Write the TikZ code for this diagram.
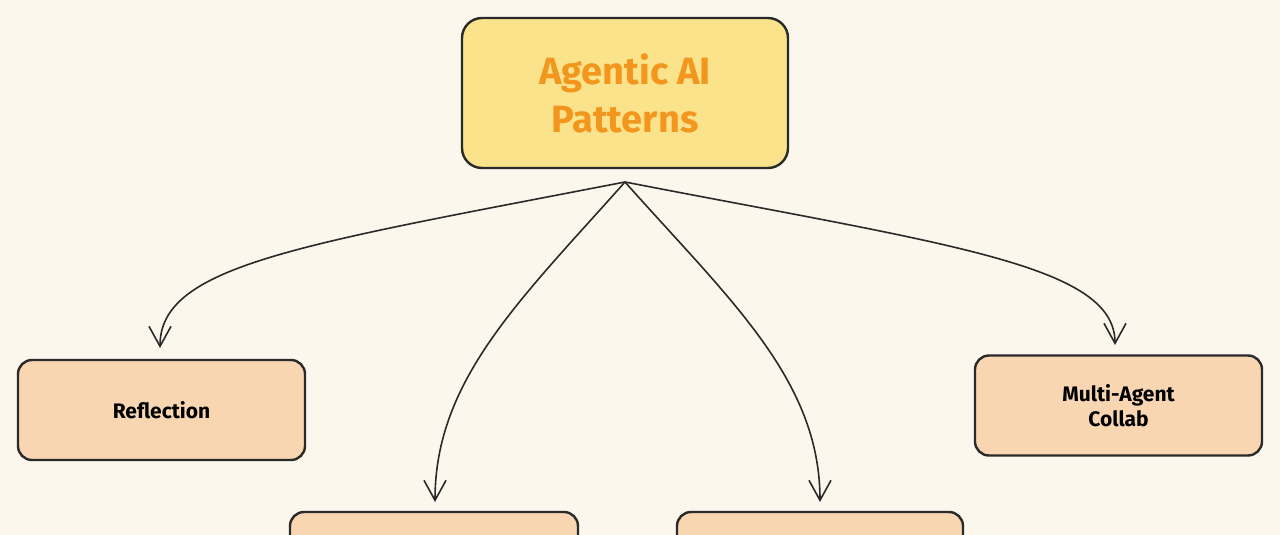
\documentclass[tikz,border=0pt]{standalone}
\usepackage{fontspec}
\setmainfont{Fira Sans}
\usetikzlibrary{arrows.meta}
\definecolor{bg}{HTML}{FBF7EC}
\definecolor{topfill}{HTML}{FBE38C}
\definecolor{topink}{HTML}{F2961E}
\definecolor{peach}{HTML}{F9D6B2}
\definecolor{ink}{HTML}{2A2A2A}
\begin{document}
\begin{tikzpicture}[x=1pt,y=-1pt,
  box/.style={draw=ink,line width=2.4pt,rounded corners=14pt,fill=peach,font=\bfseries\fontsize{21}{25}\selectfont,align=center,text=black},
  link/.style={draw=ink,line width=1.6pt,-{Straight Barb[length=20pt,width=22pt,line width=1.6pt]}}]
\useasboundingbox (0,0) rectangle (1280,535);
\clip (0,0) rectangle (1280,535);
\fill[bg] (0,0) rectangle (1280,535);
\node[box,fill=topfill,rounded corners=20pt,minimum width=326pt,minimum height=150pt,text=topink,font=\bfseries\fontsize{38}{48}\selectfont] (top) at (625,93) {Agentic AI\\Patterns};
\node[box,minimum width=287pt,minimum height=100pt] (refl) at (161.5,410) {Reflection};
\node[box,minimum width=287pt,minimum height=100pt] (multi) at (1118.5,405.5) {Multi-Agent\\Collab};
\node[box,minimum width=288pt,minimum height=100pt] (bl) at (434,562) {};
\node[box,minimum width=286pt,minimum height=100pt] (br) at (820,562) {};
\coordinate (hub) at (625,182);
\draw[link] (hub) .. controls (300,245) and (160,265) .. (160,348);
\draw[link] (hub) .. controls (520,300) and (435,380) .. (435,502);
\draw[link] (hub) .. controls (730,300) and (820,380) .. (820,502);
\draw[link] (hub) .. controls (950,245) and (1115,265) .. (1115,345);
\end{tikzpicture}
\end{document}
